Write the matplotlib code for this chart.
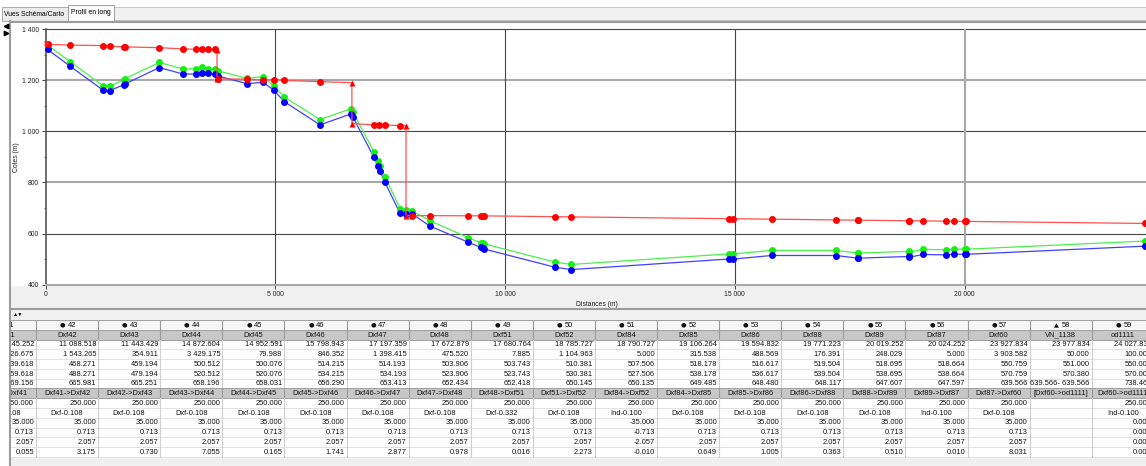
import matplotlib
matplotlib.use("Agg")
import matplotlib.pyplot as plt
from matplotlib.patches import Rectangle

plt.rcParams['font.family'] = ['Liberation Sans', 'DejaVu Sans']

# ---------------- data: upstream part of the profile ----------------
UP_DIST = [40, 536, 1247, 1393, 1698, 1726, 2473, 2989, 3265, 3409, 3533, 3679, 3757,
           4382, 4730, 4963, 5194, 5971, 6646, 6683, 7146, 7233, 7276, 7385, 7713, 7843,
           7967, 8365, 9199, 9468, 9512]
UP_BED = [1320, 1254, 1161, 1159, 1182, 1185, 1249, 1224, 1224, 1227, 1227, 1224, 1216,
          1186, 1192, 1161, 1116, 1025, 1068, 1057, 898, 864, 846, 800, 679, 677,
          678, 629, 566, 546, 542]
UP_BANK = [1337, 1272, 1178, 1176, 1202, 1206, 1269, 1244, 1244, 1253, 1244, 1245, 1236,
           1207, 1214, 1178, 1134, 1046, 1088, 1077, 919, 884, 865, 822, 698, 692,
           689, 650, 584, 564, 562]
UP_WL_DIST = [40, 536, 1247, 1393, 1698, 1726, 2473, 2989, 3265, 3409, 3533, 3679, 3729, 3729,
              3757, 4382, 4730, 4963, 5194, 5971, 6665, 6665, 7146, 7254, 7385, 7713, 7843,
              7843, 7967, 8365, 9199, 9468, 9512]
UP_WL = [1340, 1337, 1335, 1333, 1330, 1330, 1327, 1322, 1321, 1321, 1321, 1320, 1319, 1206,
         1205, 1204, 1200, 1202, 1199, 1194, 1190, 1030, 1025, 1025, 1025, 1022, 1021,
         670, 670, 670, 669.5, 669.3, 669.2]
UP_WL_STRUCT = [12, 13, 20, 21, 26, 27]   # indices drawn as triangles (structures)

# ---------------- data: table columns (nodes 41..59) ----------------
COL_IDS = [41, 42, 43, 44, 45, 46, 47, 48, 49, 50, 51, 52, 53, 54, 55, 56, 57, 58, 59]
COL_SYM = ['●'] * 17 + ['▲', '●']
NODE_NAMES = ["Dxf41", "Dxf42", "Dxf43", "Dxf44", "Dxf45", "Dxf46", "Dxf47", "Dxf48", "Dxf51",
              "Dxf52", "Dxf84", "Dxf85", "Dxf86", "Dxf88", "Dxf89", "Dxf87", "Dxf60",
              "VN_1138", "od1111"]
DIST = [9545.252, 11088.518, 11443.429, 14872.604, 14952.591, 15798.943, 17197.359,
        17672.879, 17680.764, 18785.727, 18790.727, 19106.264, 19594.832, 19771.223,
        20019.252, 20024.252, 23927.834, 23977.834, 24027.834]
LENGTH = [126.675, 1543.265, 354.911, 3429.175, 79.988, 846.352, 1398.415, 475.520, 7.885,
          1104.963, 5.000, 315.538, 488.569, 176.391, 248.029, 5.000, 3903.582, 50.000, 100.000]
BED = [539.618, 468.271, 459.194, 500.512, 500.076, 514.215, 514.193, 503.906, 503.743,
       510.381, 507.506, 518.178, 516.617, 519.504, 518.695, 518.664, 550.759, 551.000, 550.000]
BANK = [559.618, 488.271, 479.194, 520.512, 520.076, 534.215, 534.193, 523.906, 523.743,
        530.381, 527.506, 538.178, 536.617, 539.504, 538.695, 538.664, 570.759, 570.380, 570.000]
WL = [669.156, 665.981, 665.251, 658.196, 658.031, 656.290, 653.413, 652.434, 652.418,
      650.145, 650.135, 649.485, 648.480, 648.117, 647.607, 647.597, 639.566, 639.566, 738.463]
WL_DOWN = [None] * 17 + [639.566, None]
REACH = ["Dxf40->Dxf41", "Dxf41->Dxf42", "Dxf42->Dxf43", "Dxf43->Dxf44", "Dxf44->Dxf45",
         "Dxf45->Dxf46", "Dxf46->Dxf47", "Dxf47->Dxf48", "Dxf48->Dxf51", "Dxf51->Dxf52",
         "Dxf84->Dxf52", "Dxf84->Dxf85", "Dxf85->Dxf86", "Dxf86->Dxf88", "Dxf88->Dxf89",
         "Dxf89->Dxf87", "Dxf87->Dxf60", "[Dxf60->od1111]", "Dxf60->od1111"]
WIDTH = [250.0] * 17 + [None, 250.0]
LAW = ["Dxf-0.108"] * 8 + ["Dxf-0.332", "Dxf-0.108", "Ind-0.100", "Dxf-0.108", "Dxf-0.108",
                           "Dxf-0.108", "Dxf-0.108", "Ind-0.100", "Dxf-0.108", "", "Ind-0.100"]
P1 = [35.0] * 10 + [-35.0] + [35.0] * 6 + [None, 0.0]
P2 = [0.713] * 10 + [-0.713] + [0.713] * 6 + [None, 0.0]
P3 = [2.057] * 10 + [-2.057] + [2.057] * 6 + [None, 0.0]
P4 = [0.055, 3.175, 0.730, 7.055, 0.165, 1.741, 2.877, 0.978, 0.016, 2.273, -0.010, 0.649,
      1.005, 0.363, 0.510, 0.010, 8.031, None, 0.000]

X_TICKS = [0, 5000, 10000, 15000, 20000]
Y_TICKS = [400, 600, 800, 1000, 1200, 1400]


def fmt(v, d=3):
    if v is None:
        return ""
    return f"{v:,.{d}f}".replace(",", " ")


# ---------------- figure & pixel helpers ----------------
W, H = 1146, 466
fig = plt.figure(figsize=(W / 100, H / 100), dpi=100)
fig.patch.set_facecolor('white')


def frac(x0, y0, x1, y1):
    return [x0 / W, 1 - y1 / H, (x1 - x0) / W, (y1 - y0) / H]


ui = fig.add_axes([0, 0, 1, 1])
ui.set_xlim(0, W)
ui.set_ylim(H, 0)
ui.axis('off')

def box(ax_, x0, y0, x1, y1, fc, ec='none', lw=0.0, z=1):
    ax_.add_patch(Rectangle((x0, y0), x1 - x0, y1 - y0, facecolor=fc, edgecolor=ec,
                            linewidth=lw, zorder=z))

GRAYLINE = '#9c9c9c'
# tab strip
box(ui, 114, 7, W + 2, 20, '#f0f0f0', '#c8c8c8', 0.7)
box(ui, 1.5, 7, 67.5, 20.5, '#ebebeb', '#a8a8a8', 0.7)
box(ui, 67.5, 4.5, 114, 21, '#fbfbfb', '#a0a0a0', 0.7, z=2)
ui.text(34.5, 14, "Vues Schéma/Carto", fontsize=4.9, ha='center', va='center', zorder=3)
ui.text(90.8, 12.8, "Profil en long", fontsize=4.9, ha='center', va='center', zorder=3)
ui.plot([10, W], [21.5, 21.5], color=GRAYLINE, lw=1.5, zorder=2)
ui.plot([10, 10], [21, H], color=GRAYLINE, lw=1.5, zorder=2)
# little arrows at top left
ui.plot([5.5], [26], marker='<', ms=3.2, color='black', zorder=3)
ui.plot([5.5], [33], marker='>', ms=3.2, color='black', zorder=3)
# area under the chart
box(ui, 11, 286, W + 2, 308, '#f0f0f0')
ui.plot([10, W], [308.5, 308.5], color=GRAYLINE, lw=1.5, zorder=2)
box(ui, 11, 309.5, W + 2, 319.5, '#f0f0f0')
ui.text(13, 314.5, "▲▼", fontsize=3.8, ha='left', va='center', zorder=3)
box(ui, 11, 457, W + 2, H + 2, '#f0f0f0')

# ---------------- profile chart ----------------
AX_L, AX_T, AX_B = 45.7, 29.0, 284.7
XMAX = 24200
AX_R = AX_L + XMAX * 229.7 / 5000
ax = fig.add_axes(frac(AX_L, AX_T, AX_R, AX_B))
ax.set_xlim(0, XMAX)
ax.set_ylim(400, 1400)
ax.set_facecolor('white')

DARK = '#454545'
LIGHT = '#a8a8a8'
for v in Y_TICKS[1:]:
    c, w = (LIGHT, 1.5) if v % 400 == 0 else (DARK, 0.8)
    ax.axhline(v, color=c, lw=w, zorder=1, clip_on=False)
for v in X_TICKS[1:]:
    c, w = (LIGHT, 1.5) if v == 20000 else (DARK, 0.8)
    ax.axvline(v, color=c, lw=w, zorder=1)

bed_d = UP_DIST + DIST
bed = UP_BED + BED
bank = UP_BANK + BANK
wl_d = UP_WL_DIST + DIST
wl = UP_WL + WL
struct_idx = set(UP_WL_STRUCT) | {len(UP_WL) + i for i, s in enumerate(COL_SYM) if s == '▲'}

ax.plot(bed_d, bank, color='#4cf04c', lw=0.9, zorder=3, clip_on=False)
ax.plot(bed_d, bed, color='#4040ff', lw=0.9, zorder=3, clip_on=False)
ax.plot(bed_d, bank, 'o', ms=5, mfc='#14f014', mec='none', zorder=4, clip_on=False)
ax.plot(bed_d, bed, 'o', ms=5, mfc='#0000ff', mec='none', zorder=5, clip_on=False)
ax.plot(wl_d, wl, color='#ff5050', lw=0.9, zorder=6, clip_on=False)
circ = [i for i in range(len(wl)) if i not in struct_idx]
tri = sorted(struct_idx)
ax.plot([wl_d[i] for i in circ], [wl[i] for i in circ], 'o', ms=5, mfc='#ff0000', mec='none',
        zorder=7, clip_on=False)
ax.plot([wl_d[i] for i in tri], [wl[i] for i in tri], '^', ms=4.6, mfc='#ff0000', mec='none',
        zorder=7, clip_on=False)
ax.plot([0], [1346], 'x', ms=3.5, mew=1.0, color='#ff2020', zorder=7, clip_on=False)

for s in ['top', 'right']:
    ax.spines[s].set_visible(False)
ax.spines['left'].set_color('#555555')
ax.spines['left'].set_linewidth(1.2)
ax.spines['bottom'].set_color(LIGHT)
ax.spines['bottom'].set_linewidth(1.5)

ax.set_yticks(Y_TICKS)
ax.set_yticklabels([fmt(v, 0) for v in Y_TICKS])
ax.set_yticks(list(range(500, 1400, 200)), minor=True)
ax.set_xticks(X_TICKS)
ax.set_xticklabels([fmt(v, 0) for v in X_TICKS])
ax.tick_params(axis='both', which='major', length=3.0, width=0.7, color='#444444',
               labelsize=4.9, pad=1.6, labelcolor='#222222')
ax.tick_params(axis='y', which='minor', length=1.8, width=0.6, color='#444444')

AXW = AX_R - AX_L
AXH = AX_B - AX_T
ax.set_ylabel("Cotes (m)", fontsize=4.9, color='#222222', va='center')
ax.yaxis.set_label_coords((16 - AX_L) / AXW, (AX_B - 157) / AXH)
ax.set_xlabel("Distances (m)", fontsize=4.9, color='#222222', va='center')
ax.xaxis.set_label_coords((597 - AX_L) / AXW, -(304 - AX_B) / AXH)

# ---------------- table ----------------
T_L, T_T, T_B = 11, 319.5, 457.5
tab = fig.add_axes(frac(T_L, T_T, W, T_B))
tab.set_xlim(T_L, W)
tab.set_ylim(T_B, T_T)
tab.axis('off')

COL0 = 36.0
CW = 62.1
RT = 320.1
RH = 9.77
NROWS = 14
GRAY_ROWS = {1, 7}
FS = 5.4

for r in range(NROWS):
    y0 = RT + r * RH
    fc = '#c7c7c7' if r in GRAY_ROWS else ('#f6f6f6' if r == 0 else 'white')
    box(tab, T_L, y0, W + 5, y0 + RH, fc, z=1)

for r in range(NROWS + 1):
    y = RT + r * RH
    c = '#a0a0a0' if r in (0, 1, 2, 7, 8) else '#e2e2e2'
    tab.plot([T_L, W + 5], [y, y], color=c, lw=0.7, zorder=2)

ncols = len(COL_IDS)
for j in range(ncols + 1):
    x = COL0 + (j - 1) * CW + 0.0
    for r in range(NROWS):
        y0 = RT + r * RH
        c = '#9a9a9a' if (r in GRAY_ROWS or r == 0) else '#cfcfcf'
        tab.plot([x, x], [y0, y0 + RH], color=c, lw=0.8, zorder=2)

for j in range(ncols):
    xl = COL0 + (j - 1) * CW
    xc = xl + CW / 2
    xr = xl + CW - 2.0
    wl_txt = fmt(WL[j]) if WL_DOWN[j] is None else f"{fmt(WL[j])}- {fmt(WL_DOWN[j])}"
    # header: symbol (bigger glyph) + node number
    yh = RT + RH / 2 + 0.3
    tab.text(xc - 1.6, yh, COL_SYM[j], fontsize=4.6, family=['DejaVu Sans'], ha='right',
             va='center', color='#111111', zorder=3, clip_on=True)
    tab.text(xc + 0.6, yh, str(COL_IDS[j]), fontsize=FS, ha='left', va='center',
             color='#111111', zorder=3, clip_on=True)
    rows = [
        (NODE_NAMES[j], 'center'),
        (fmt(DIST[j]), 'right'),
        (fmt(LENGTH[j]), 'right'),
        (fmt(BED[j]), 'right'),
        (fmt(BANK[j]), 'right'),
        (wl_txt, 'right'),
        (REACH[j], 'center'),
        (fmt(WIDTH[j]), 'right'),
        (LAW[j], 'center'),
        (fmt(P1[j]), 'right'),
        (fmt(P2[j]), 'right'),
        (fmt(P3[j]), 'right'),
        (fmt(P4[j]), 'right'),
    ]
    for r, (txt, al) in enumerate(rows, start=1):
        if not txt:
            continue
        yc = RT + r * RH + RH / 2 + 0.3
        x = xc if al == 'center' else xr
        tab.text(x, yc, txt, fontsize=FS, ha=al, va='center', color='#111111',
                 zorder=3, clip_on=True)

fig.savefig("out.png", dpi=100, facecolor=fig.get_facecolor())
